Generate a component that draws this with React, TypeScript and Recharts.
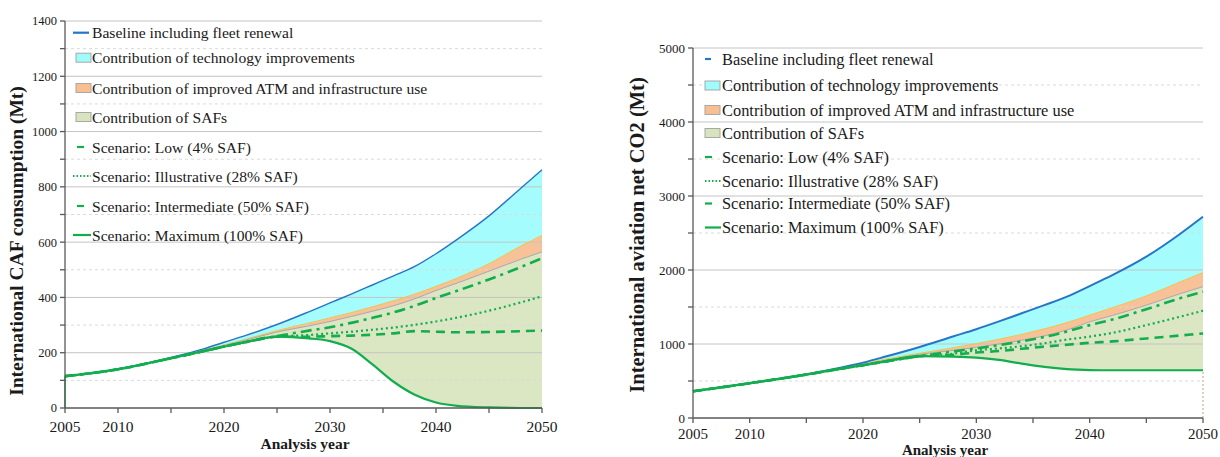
import React from 'react';
import { ComposedChart, Area, Line, XAxis, YAxis, ReferenceLine } from 'recharts';

// ---------- data ----------
const years = [2005, 2010, 2015, 2018, 2020, 2022, 2025, 2028, 2030, 2032, 2034, 2036, 2038, 2040, 2042, 2045, 2048, 2050];

// Left panel: International CAF consumption (Mt)
const cafBaseline = [115, 142, 183, 213, 238, 262, 302, 348, 380, 412, 445, 478, 512, 558, 610, 695, 795, 862];
const cafAfterTech = [115, 141, 181, 209, 228, 248, 280, 307, 326, 345, 366, 388, 412, 440, 470, 522, 586, 624];
const cafAfterAtm = [115, 141, 180, 207, 226, 245, 275, 297, 313, 331, 350, 370, 395, 425, 452, 495, 538, 565];
const cafLow = [115, 140, 180, 205, 222, 238, 258, 258, 260, 262, 265, 270, 278, 276, 274, 275, 278, 280];
const cafIllustrative = [115, 140, 180, 205, 222, 238, 258, 264, 270, 276, 283, 291, 301, 313, 327, 352, 382, 404];
const cafIntermediate = [115, 140, 180, 205, 222, 238, 260, 280, 292, 308, 326, 346, 370, 398, 424, 465, 510, 542];
const cafMaximum = [115, 140, 180, 205, 222, 238, 258, 252, 242, 215, 158, 95, 48, 20, 8, 2, 0, 0];

// Right panel: International aviation net CO2 (Mt)
const co2Baseline = [361, 470, 590, 680, 748, 830, 960, 1105, 1200, 1305, 1415, 1525, 1640, 1783, 1930, 2180, 2490, 2720];
const co2AfterTech = [361, 470, 588, 675, 735, 795, 875, 950, 1005, 1065, 1130, 1205, 1290, 1390, 1490, 1650, 1840, 1965];
const co2AfterAtm = [361, 470, 587, 670, 725, 780, 860, 915, 955, 1000, 1050, 1110, 1190, 1300, 1385, 1525, 1680, 1775];
const co2Low = [361, 470, 587, 665, 713, 765, 835, 855, 885, 905, 935, 965, 990, 1016, 1035, 1075, 1115, 1142];
const co2Illustrative = [361, 470, 587, 665, 713, 765, 835, 870, 915, 940, 970, 1010, 1060, 1100, 1150, 1255, 1370, 1450];
const co2Intermediate = [361, 470, 587, 665, 713, 765, 835, 900, 940, 985, 1035, 1095, 1170, 1255, 1330, 1470, 1620, 1707];
const co2Maximum = [361, 470, 587, 665, 713, 765, 835, 830, 817, 785, 735, 690, 660, 648, 645, 645, 645, 645];

const xTicks = [2005, 2010, 2015, 2020, 2025, 2030, 2035, 2040, 2045, 2050];
const xLabelYears = [2005, 2010, 2020, 2030, 2040, 2050];
const cafTicks = [0, 100, 200, 300, 400, 500, 600, 700, 800, 900, 1000, 1100, 1200, 1300, 1400];
const co2Ticks = [0, 500, 1000, 1500, 2000, 2500, 3000, 3500, 4000, 4500, 5000];

const legendLabels = [
  'Baseline including fleet renewal',
  'Contribution of technology improvements',
  'Contribution of improved ATM and infrastructure use',
  'Contribution of SAFs',
  'Scenario: Low (4% SAF)',
  'Scenario: Illustrative (28% SAF)',
  'Scenario: Intermediate (50% SAF)',
  'Scenario: Maximum (100% SAF)',
];

// ---------- styles ----------
const FONT = '"Liberation Serif", "Times New Roman", Times, serif';
const BLUE = '#2676C6';
const CYAN = '#A0FCFC';
const ORANGE = '#F8BF92';
const OLIVE = '#D8E4BE';
const GREEN = '#12AE4E';
const AXIS = '#595959';

function buildRows(base: number[], tech: number[], atm: number[], low: number[], ill: number[], inter: number[], max: number[]) {
  return years.map((year, i) => ({
    year,
    base: base[i],
    tech: tech[i],
    atm: atm[i],
    low: low[i],
    ill: ill[i],
    inter: inter[i],
    max: max[i],
    techBand: [tech[i], base[i]],
    atmBand: [atm[i], tech[i]],
    safBand: [max[i], atm[i]],
  }));
}

type Icon = { kind: 'line' | 'rect' | 'dash' | 'dot'; x0: number; x1: number; color: string; fill?: string };

type PanelProps = {
  left: number;
  width: number;
  height: number;
  margin: { top: number; right: number; bottom: number; left: number };
  yWidth: number;
  xHeight: number;
  yMax: number;
  yTicks: number[];
  yMajor: number;
  rows: any[];
  yTitle: string;
  yTitleX: number;
  yTitleY: number;
  yTitleSize: number;
  yTickSize: number;
  xTickSize: number;
  xTickMargin: number;
  xTitleX: number;
  xTitleY: number;
  xTitleSize: number;
  legendY: number[];
  legendTextX: number;
  legendFont: number;
  icons: Icon[];
  blueWidth: number;
  edge: 'left' | 'right';
};

function LegendOverlay({ p }: { p: PanelProps }) {
  return (
    <svg width={p.width} height={p.height} style={{ position: 'absolute', left: 0, top: 0, pointerEvents: 'none' }}>
      {legendLabels.map((label, i) => {
        const y = p.legendY[i];
        const ic = p.icons[i];
        let icon: React.ReactNode = null;
        if (ic.kind === 'rect') {
          icon = <rect x={ic.x0} y={y - 4.5} width={ic.x1 - ic.x0} height={9} fill={ic.fill} stroke="#A8A8A8" strokeWidth={1} />;
        } else {
          const dash = ic.kind === 'dot' ? '1.5 2' : undefined;
          icon = <line x1={ic.x0} x2={ic.x1} y1={y} y2={y} stroke={ic.color} strokeWidth={2.2} strokeDasharray={dash} />;
        }
        return (
          <g key={label}>
            {icon}
            <text x={p.legendTextX} y={y} dominantBaseline="central" fontFamily={FONT} fontSize={p.legendFont} fill="#1a1a1a">
              {label}
            </text>
          </g>
        );
      })}
    </svg>
  );
}

function Panel({ p }: { p: PanelProps }) {
  const grid = p.yTicks.filter((v) => v > 0);
  const lastMax = p.rows[p.rows.length - 1].max;
  const firstMax = p.rows[0].max;
  return (
    <div style={{ position: 'absolute', left: p.left, top: 0, width: p.width, height: p.height }}>
      <ComposedChart width={p.width} height={p.height} data={p.rows} margin={p.margin}>
        <XAxis
          dataKey="year"
          type="number"
          domain={[2005, 2050]}
          ticks={xTicks}
          tickFormatter={(v: number) => (xLabelYears.includes(v) ? String(v) : '')}
          interval={0}
          height={p.xHeight}
          tickSize={5}
          tickMargin={p.xTickMargin}
          axisLine={{ stroke: AXIS, strokeWidth: 1.3 }}
          tickLine={{ stroke: AXIS, strokeWidth: 1.3 }}
          tick={{ fontFamily: FONT, fontSize: p.xTickSize, fill: '#1a1a1a' }}
          label={() => (
            <text x={p.xTitleX} y={p.xTitleY} textAnchor="middle" fontFamily={FONT} fontWeight="bold" fontSize={p.xTitleSize} fill="#1a1a1a">
              Analysis year
            </text>
          )}
        />
        <YAxis
          type="number"
          domain={[0, p.yMax]}
          ticks={p.yTicks}
          tickFormatter={(v: number) => (v % p.yMajor === 0 ? String(v) : '')}
          interval={0}
          width={p.yWidth}
          tickSize={5}
          tickMargin={3}
          axisLine={{ stroke: AXIS, strokeWidth: 1.3 }}
          tickLine={{ stroke: AXIS, strokeWidth: 1.3 }}
          tick={{ fontFamily: FONT, fontSize: p.yTickSize, fill: '#1a1a1a' }}
          label={() => (
            <text
              x={p.yTitleX}
              y={p.yTitleY}
              textAnchor="middle"
              dominantBaseline="central"
              transform={`rotate(-90 ${p.yTitleX} ${p.yTitleY})`}
              fontFamily={FONT}
              fontWeight="bold"
              fontSize={p.yTitleSize}
              fill="#1a1a1a"
            >
              {p.yTitle}
            </text>
          )}
        />
        <Area dataKey="techBand" type="monotone" fill={CYAN} fillOpacity={0.95} stroke="none" isAnimationActive={false} dot={false} activeDot={false} />
        <Area dataKey="atmBand" type="monotone" fill={ORANGE} fillOpacity={0.95} stroke="none" isAnimationActive={false} dot={false} activeDot={false} />
        <Area dataKey="safBand" type="monotone" fill={OLIVE} fillOpacity={0.92} stroke="none" isAnimationActive={false} dot={false} activeDot={false} />
        {grid.map((v) => (
          <ReferenceLine
            key={v}
            y={v}
            stroke={v % p.yMajor === 0 ? '#C4C4C4' : '#DADADA'}
            strokeWidth={1}
            strokeDasharray={v % p.yMajor === 0 ? undefined : '3 3'}
          />
        ))}
        {p.edge === 'left' ? (
          <ReferenceLine segment={[{ x: 2005, y: 0 }, { x: 2005, y: firstMax }]} stroke={GREEN} strokeWidth={1.5} />
        ) : (
          <ReferenceLine segment={[{ x: 2050, y: 0 }, { x: 2050, y: lastMax }]} stroke="#B8A880" strokeWidth={1} strokeDasharray="2 2" />
        )}
        <Line dataKey="tech" type="monotone" stroke="#F2C24A" strokeWidth={1} dot={false} activeDot={false} isAnimationActive={false} />
        <Line dataKey="atm" type="monotone" stroke="#A8A8A8" strokeWidth={1} dot={false} activeDot={false} isAnimationActive={false} />
        <Line dataKey="base" type="monotone" stroke={BLUE} strokeWidth={p.blueWidth} dot={false} activeDot={false} isAnimationActive={false} />
        <Line dataKey="low" type="monotone" stroke={GREEN} strokeWidth={2.6} strokeDasharray="9 6" dot={false} activeDot={false} isAnimationActive={false} />
        <Line dataKey="ill" type="monotone" stroke={GREEN} strokeWidth={2.2} strokeDasharray="2 3" dot={false} activeDot={false} isAnimationActive={false} />
        <Line dataKey="inter" type="monotone" stroke={GREEN} strokeWidth={2.6} strokeDasharray="11 5 3 5" dot={false} activeDot={false} isAnimationActive={false} />
        <Line dataKey="max" type="monotone" stroke={GREEN} strokeWidth={2.2} dot={false} activeDot={false} isAnimationActive={false} />
      </ComposedChart>
      <LegendOverlay p={p} />
    </div>
  );
}

const leftPanel: PanelProps = {
  left: 0,
  width: 600,
  height: 457,
  margin: { top: 21, right: 58, bottom: 0, left: 0 },
  yWidth: 65,
  xHeight: 49,
  yMax: 1400,
  yTicks: cafTicks,
  yMajor: 200,
  rows: buildRows(cafBaseline, cafAfterTech, cafAfterAtm, cafLow, cafIllustrative, cafIntermediate, cafMaximum),
  yTitle: 'International CAF consumption (Mt)',
  yTitleX: 16,
  yTitleY: 241,
  yTitleSize: 19.5,
  yTickSize: 12.5,
  xTickSize: 15.5,
  xTickMargin: 8,
  xTitleX: 305,
  xTitleY: 449,
  xTitleSize: 15.5,
  legendY: [32.7, 57.7, 88, 117, 147, 176, 206, 235],
  legendTextX: 92,
  legendFont: 15.6,
  icons: [
    { kind: 'line', x0: 73, x1: 89, color: BLUE },
    { kind: 'rect', x0: 76, x1: 91, color: '', fill: CYAN },
    { kind: 'rect', x0: 76, x1: 91, color: '', fill: ORANGE },
    { kind: 'rect', x0: 76, x1: 91, color: '', fill: OLIVE },
    { kind: 'dash', x0: 77, x1: 84, color: GREEN },
    { kind: 'dot', x0: 73, x1: 91, color: GREEN },
    { kind: 'dash', x0: 77, x1: 84, color: GREEN },
    { kind: 'line', x0: 73, x1: 91, color: GREEN },
  ],
  blueWidth: 1.4,
  edge: 'left',
};

const rightPanel: PanelProps = {
  left: 620,
  width: 600,
  height: 457,
  margin: { top: 48, right: 17, bottom: 0, left: 0 },
  yWidth: 73,
  xHeight: 39,
  yMax: 5000,
  yTicks: co2Ticks,
  yMajor: 1000,
  rows: buildRows(co2Baseline, co2AfterTech, co2AfterAtm, co2Low, co2Illustrative, co2Intermediate, co2Maximum),
  yTitle: 'International aviation net CO2 (Mt)',
  yTitleX: 17,
  yTitleY: 235,
  yTitleSize: 20.5,
  yTickSize: 13,
  xTickSize: 15,
  xTickMargin: 5,
  xTitleX: 325,
  xTitleY: 455,
  xTitleSize: 15,
  legendY: [59, 85.5, 110, 133, 157, 181, 203.5, 227.5],
  legendTextX: 102,
  legendFont: 16.4,
  icons: [
    { kind: 'line', x0: 85, x1: 91, color: BLUE },
    { kind: 'rect', x0: 85, x1: 100, color: '', fill: CYAN },
    { kind: 'rect', x0: 85, x1: 100, color: '', fill: ORANGE },
    { kind: 'rect', x0: 85, x1: 100, color: '', fill: OLIVE },
    { kind: 'dash', x0: 85, x1: 92, color: GREEN },
    { kind: 'dot', x0: 85, x1: 101, color: GREEN },
    { kind: 'dash', x0: 85, x1: 92, color: GREEN },
    { kind: 'line', x0: 85, x1: 101, color: GREEN },
  ],
  blueWidth: 2,
  edge: 'right',
};

export default function App() {
  return (
    <div style={{ position: 'absolute', left: 0, top: 0, width: 1220, height: 457, background: '#fff', overflow: 'hidden', fontFamily: FONT }}>
      <Panel p={leftPanel} />
      <Panel p={rightPanel} />
    </div>
  );
}
